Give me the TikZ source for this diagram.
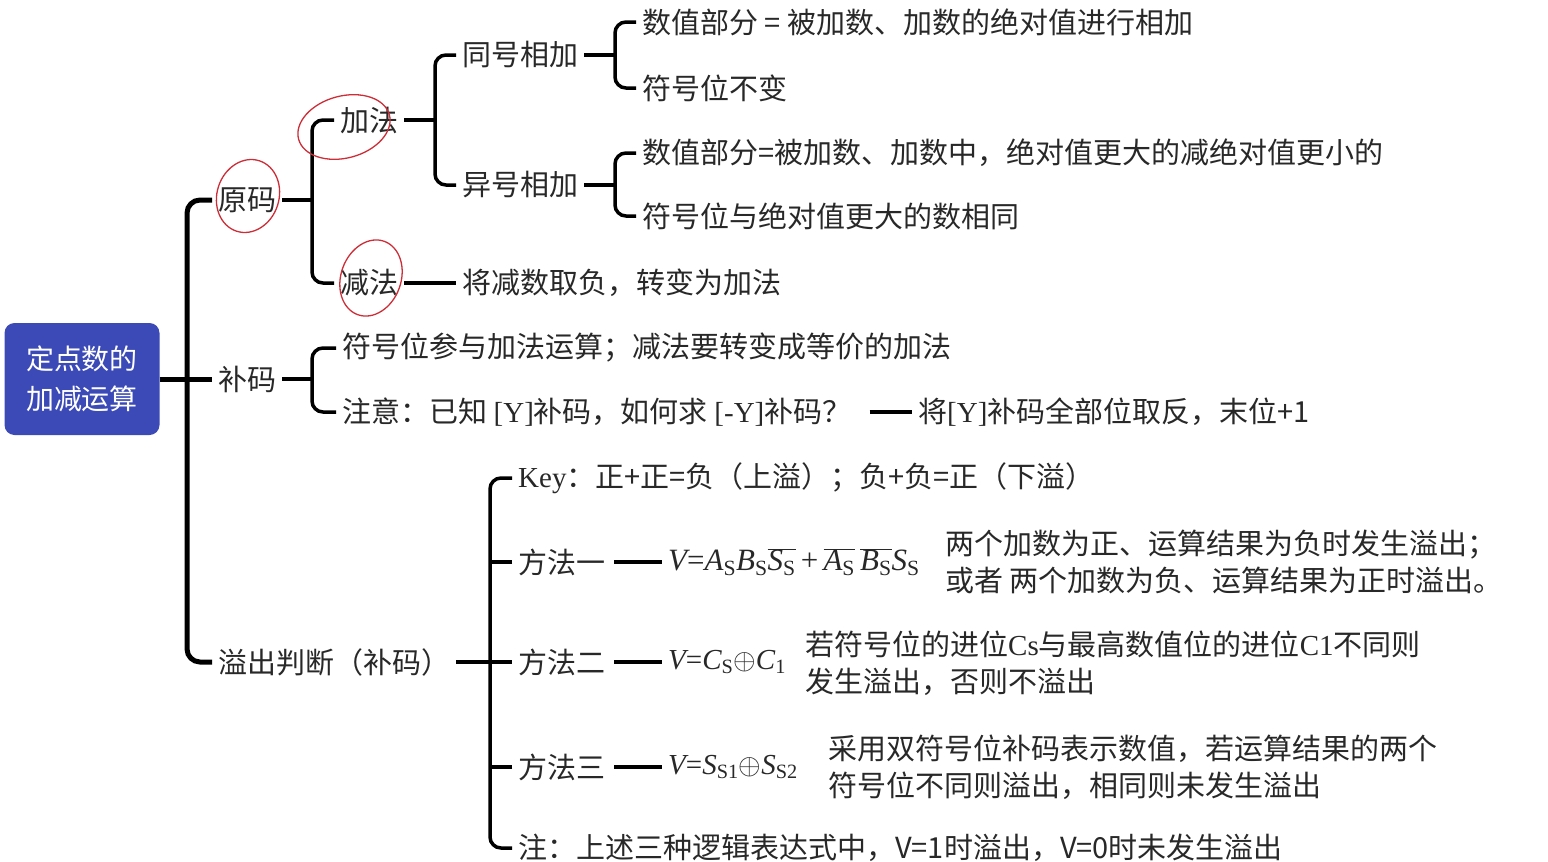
\RequirePackage{fix-cm}
\documentclass[tikz,border=0pt]{standalone}
\usepackage{fontspec}
\setmainfont{Noto Sans CJK SC}
\newfontfamily\tms{Liberation Serif}
\newcommand{\vf}[1]{{\tms\itshape #1}}
\newcommand{\sbs}[1]{\textsubscript{\upshape #1}}
\newcommand{\ovl}[1]{$\overline{\hbox{\vf{#1}}}$}
\definecolor{rootblue}{RGB}{59,74,182}
\definecolor{txt}{RGB}{40,40,40}
\definecolor{pen}{RGB}{205,45,55}
\tikzset{
  topic/.style={anchor=west, text=txt, font=\fontsize{29}{37}\selectfont, inner xsep=6pt, inner ysep=1pt},
  note/.style={topic, align=left},
  formula/.style={topic, font=\fontsize{31}{37}\selectfont},
  link/.style={line width=3.5pt, rounded corners=11pt},
  trunk/.style={line width=5pt, rounded corners=13pt},
  circled/.style={pen, line width=1.3pt}
}
\begin{document}
\begin{tikzpicture}[x=1pt,y=-1pt]
\useasboundingbox (0,0) rectangle (1548,862);

\node[fill=rootblue, rounded corners=10pt, minimum width=155pt, minimum height=112pt,
  text=white, align=center, font=\fontsize{28}{40}\selectfont] (root) at (82,379) {定点数的\\加减运算};

\node[topic] (ym) at (212,200) {原码};
\node[topic] (bm) at (212,379) {补码};
\node[topic] (yc) at (212,662) {溢出判断（补码）};

\node[topic] (jf) at (334,120) {加法};
\node[topic] (jian) at (334,283) {减法};
\node[topic] (th) at (456,55) {同号相加};
\node[topic] (yh) at (456,185) {异号相加};
\node[topic] (th1) at (636,22) {数值部分 = 被加数、加数的绝对值进行相加};
\node[topic] (th2) at (636,88) {符号位不变};
\node[topic] (yh1) at (636,153) {数值部分=被加数、加数中，绝对值更大的减绝对值更小的};
\node[topic] (yh2) at (636,216) {符号位与绝对值更大的数相同};
\node[topic] (jian1) at (456,283) {将减数取负，转变为加法};

\node[topic] (bm1) at (336,348) {符号位参与加法运算；减法要转变成等价的加法};
\node[topic] (bm2) at (336,412) {注意：已知 {\tms[Y]}补码，如何求 {\tms[-Y]}补码？};
\node[topic] (bm3) at (912,412) {将{\tms[Y]}补码全部位取反，末位+1};

\node[topic] (key) at (512,478) {{\tms Key}：正+正=负（上溢）；负+负=正（下溢）};
\node[topic] (f1) at (512,562) {方法一};
\node[topic] (f2) at (512,662) {方法二};
\node[topic] (f3) at (512,767) {方法三};
\node[topic] (zhu) at (512,848) {注：上述三种逻辑表达式中，V=1时溢出，V=0时未发生溢出};

\node[formula] (e1) at (662,562) {\vf{V}{\tms =}\vf{A\sbs{S}B\sbs{S}}\ovl{S\sbs{S}}{\tms\,+\,}\ovl{A\sbs{S}}\,\ovl{B\sbs{S}}\vf{S\sbs{S}}};
\node[topic] (e2) at (662,662) {\vf{V}{\tms =}\vf{C\sbs{S}}$\oplus$\vf{C\sbs{1}}};
\node[topic] (e3) at (662,767) {\vf{V}{\tms =}\vf{S\sbs{S1}}$\oplus$\vf{S\sbs{S2}}};
\node[note] (d1) at (939,562) {两个加数为正、运算结果为负时发生溢出；\\或者 两个加数为负、运算结果为正时溢出。};
\node[note] (d2) at (799,663) {若符号位的进位{\tms Cs}与最高数值位的进位{\tms C1}不同则\\发生溢出，否则不溢出};
\node[note] (d3) at (822,767) {采用双符号位补码表示数值，若运算结果的两个\\符号位不同则溢出，相同则未发生溢出};

\coordinate (c0) at (187,379);
\coordinate (c1) at (312,200);
\coordinate (c2) at (435,120);
\coordinate (c3) at (615,55);
\coordinate (c4) at (615,185);
\coordinate (c5) at (312,379);
\coordinate (c6) at (490,662);

\draw[trunk] (root.east) -- (bm.west);
\draw[trunk] (ym.west) -| (c0) |- (yc.west);

\draw[link] (ym.east) -- (c1);
\draw[link] (jf.west) -| (c1) |- (jian.west);
\draw[link] (jf.east) -- (c2);
\draw[link] (th.west) -| (c2) |- (yh.west);
\draw[link] (th.east) -- (c3);
\draw[link] (th1.west) -| (c3) |- (th2.west);
\draw[link] (yh.east) -- (c4);
\draw[link] (yh1.west) -| (c4) |- (yh2.west);
\draw[link] (jian.east) -- (jian1.west);

\draw[link] (bm.east) -- (c5);
\draw[link] (bm1.west) -| (c5) |- (bm2.west);
\draw[link, shorten <=12pt] (bm2.east) -- (bm3.west);

\draw[link] (yc.east) -- (f2.west);
\draw[link] (key.west) -| (c6) |- (zhu.west);
\draw[link] (f1.west) -- (f1.west -| c6);
\draw[link] (f3.west) -- (f3.west -| c6);
\draw[link, shorten <=3pt] (f1.east) -- (e1.west);
\draw[link, shorten <=3pt] (f2.east) -- (e2.west);
\draw[link, shorten <=3pt] (f3.east) -- (e3.west);

% red pen marks
\draw[circled, rotate around={-18:(248,196)}] (248,196) ellipse [x radius=31pt, y radius=37pt];
\draw[circled, rotate around={15:(344,127)}] (344,127) ellipse [x radius=47pt, y radius=31pt];
\draw[circled, rotate around={-20:(371,278)}] (371,278) ellipse [x radius=30pt, y radius=39pt];

\end{tikzpicture}
\end{document}
